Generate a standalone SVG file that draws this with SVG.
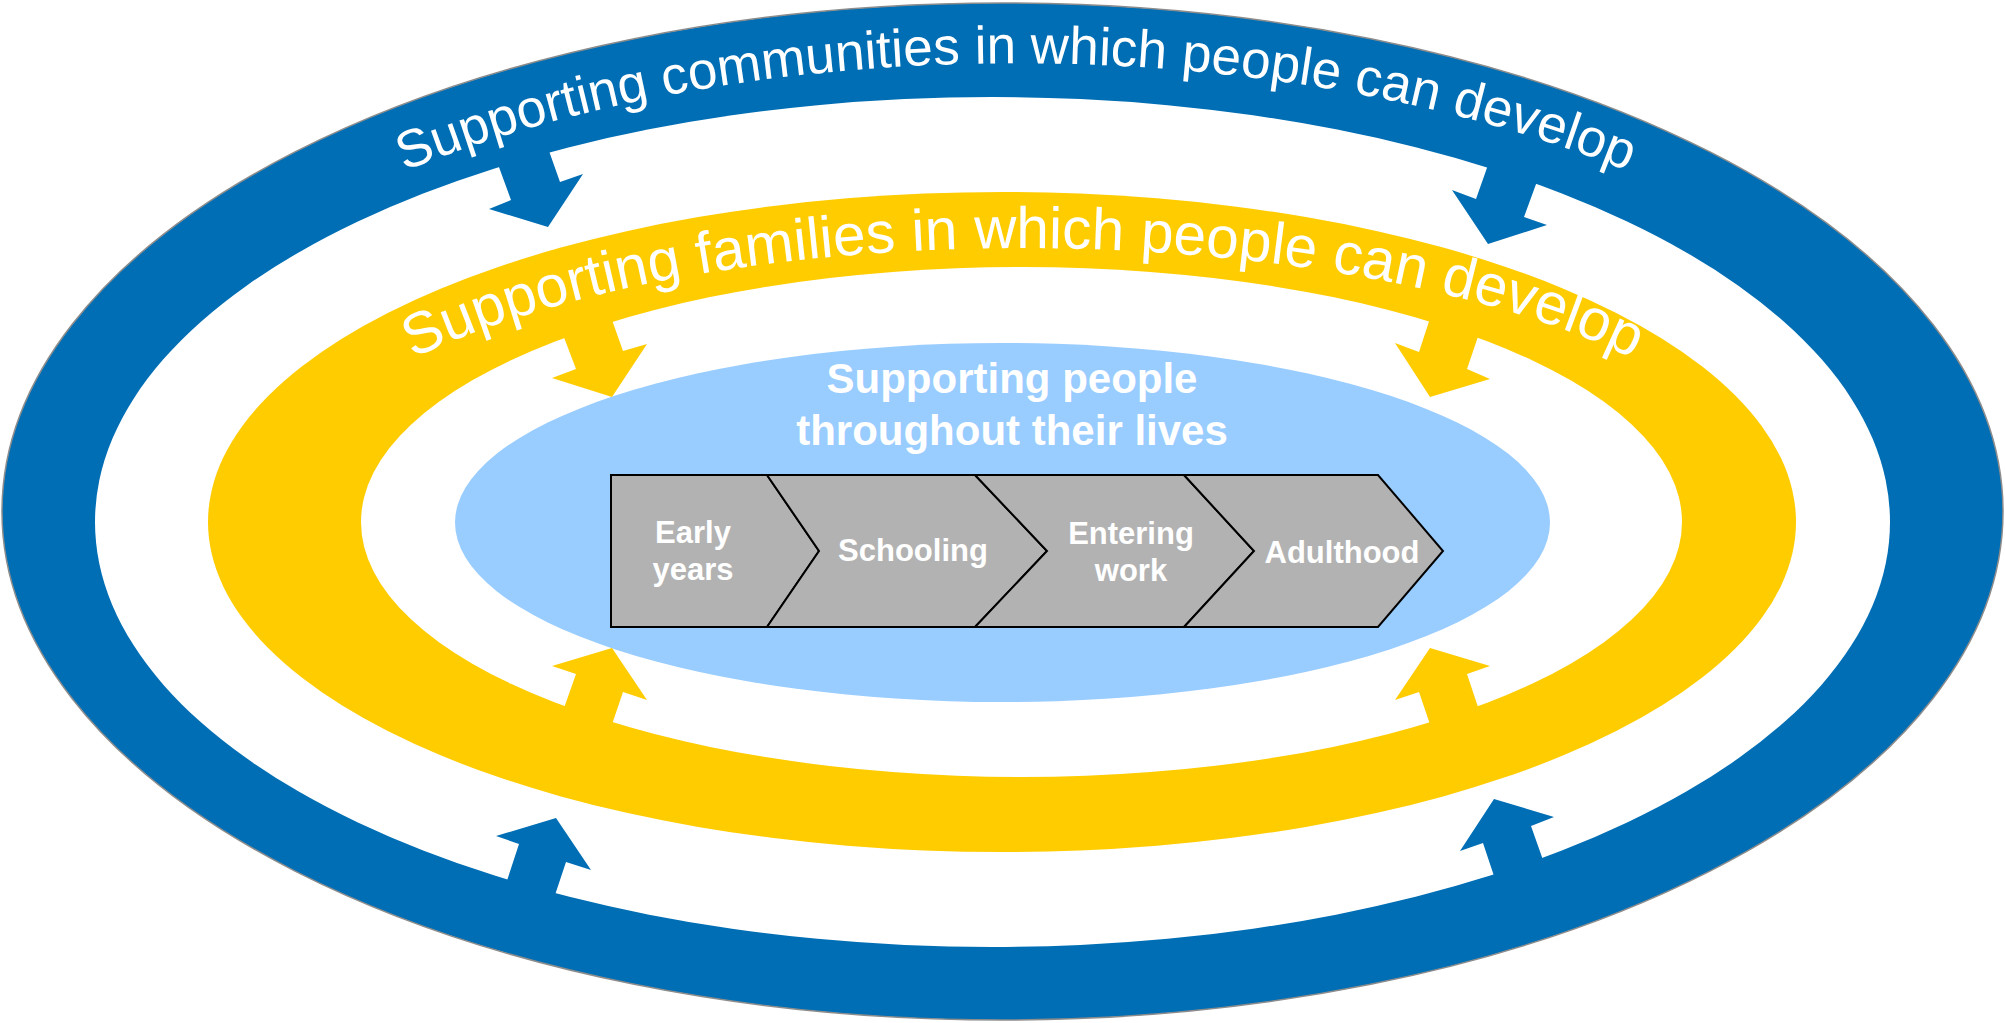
<svg xmlns="http://www.w3.org/2000/svg" width="2005" height="1023" viewBox="0 0 2005 1023">
<style>
.blue{fill:#006EB4}
.yellow{fill:#FFCC00}
.white{fill:#FFFFFF}
.core{fill:#99CCFF}
.stage{fill:#B2B2B2;stroke:#000000;stroke-width:2;stroke-linejoin:miter}
.band-text{font-family:"Liberation Sans",Arial,sans-serif;fill:#FFFFFF}
.bold{font-family:"Liberation Sans",Arial,sans-serif;font-weight:bold;fill:#FFFFFF;text-anchor:middle}
</style>
<defs>
<path id="blueArc" d="M 66 522 A 950 459 0 0 1 1966 522"/>
<path id="yellowArc" d="M 263 522 A 760 274 0 0 1 1783 522"/>
</defs>
<rect width="2005" height="1023" fill="#FFFFFF"/>
<g id="band-communities">
<ellipse class="blue" cx="1002.5" cy="511.5" rx="1000.5" ry="508.5" stroke="#8C8C8C" stroke-width="1.5"/>
<ellipse class="white" cx="992.5" cy="522" rx="897.5" ry="425"/>
</g>
<g id="band-families">
<ellipse class="yellow" cx="1002" cy="522" rx="794" ry="330"/>
<ellipse class="white" cx="1021.5" cy="522" rx="660.5" ry="255"/>
</g>
<g id="core-people">
<ellipse class="core" cx="1002.5" cy="522.5" rx="547.5" ry="179.5"/>
<text class="bold" font-size="42" x="1012" y="393">Supporting people</text>
<text class="bold" font-size="42" x="1012" y="445">throughout their lives</text>
</g>
<g id="connectors">
<polygon class="blue" points="548,227 489,209 511,200 492,148 543,134 560,182 583,174"/>
<polygon class="blue" points="1488,244 1452,190 1476,199 1494,148 1543,165 1524,217 1547,225"/>
<polygon class="blue" points="556,818 591,870 566,862 549,913 501,899 519,844 496,836"/>
<polygon class="blue" points="1494,799 1554,817 1531,826 1549,877 1500,894 1483,843 1460,851"/>
<polygon class="yellow" points="612,397 552,378 576,369 557,319 606,303 623,351 647,344"/>
<polygon class="yellow" points="1430,397 1395,343 1419,352 1435,303 1484,319 1467,369 1490,379"/>
<polygon class="yellow" points="612,648 647,700 623,692 606,742 558,725 576,674 552,666"/>
<polygon class="yellow" points="1430,648 1490,666 1467,674 1484,725 1436,742 1419,692 1395,700"/>
</g>
<g id="band-communities-label">
<text class="band-text" font-size="53"><textPath href="#blueArc" startOffset="50%" text-anchor="middle">Supporting communities in which people can develop</textPath></text>
</g>
<g id="band-families-label">
<text class="band-text" font-size="58.5"><textPath href="#yellowArc" startOffset="50%" text-anchor="middle">Supporting families in which people can develop</textPath></text>
</g>
<g id="stage-early-years">
<polygon class="stage" points="611,475 767,475 819,551 767,627 611,627"/>
<text class="bold" font-size="31" x="693" y="543">Early</text>
<text class="bold" font-size="31" x="693" y="580">years</text>
</g>
<g id="stage-schooling">
<polygon class="stage" points="767,475 975,475 1047,551 975,627 767,627 819,551"/>
<text class="bold" font-size="31" x="913" y="561">Schooling</text>
</g>
<g id="stage-entering-work">
<polygon class="stage" points="975,475 1184,475 1254,551 1184,627 975,627 1047,551"/>
<text class="bold" font-size="31" x="1131" y="544">Entering</text>
<text class="bold" font-size="31" x="1131" y="581">work</text>
</g>
<g id="stage-adulthood">
<polygon class="stage" points="1184,475 1378,475 1443,551 1378,627 1184,627 1254,551"/>
<text class="bold" font-size="31" x="1342" y="563">Adulthood</text>
</g>
</svg>
